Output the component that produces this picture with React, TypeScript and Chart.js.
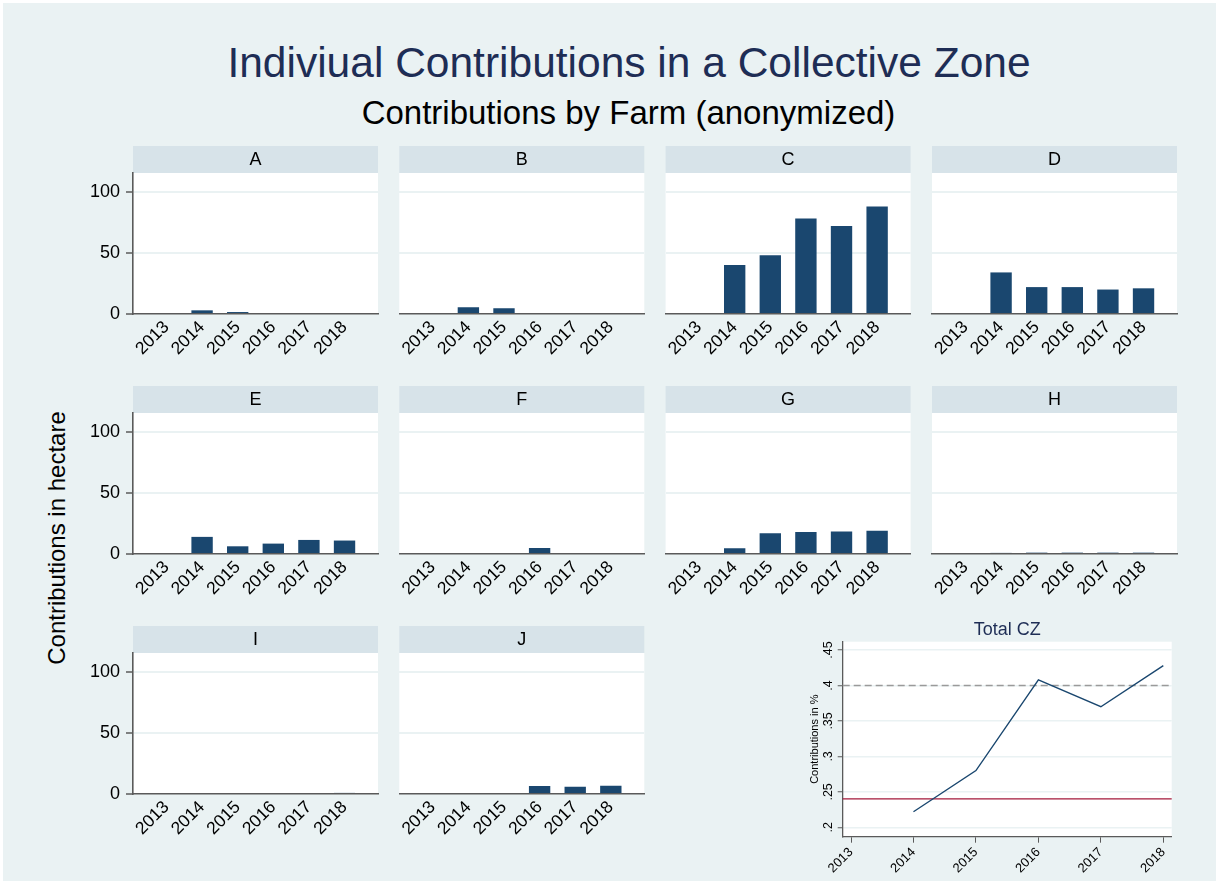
import React, { useEffect, useRef } from 'react';
import { Chart, registerables } from 'chart.js';

Chart.register(...registerables);

// ---------------- data ----------------
const YEARS = [2013, 2014, 2015, 2016, 2017, 2018];
const FARM_LABELS = ['A', 'B', 'C', 'D', 'E', 'F', 'G', 'H', 'I', 'J'];
const farmA = [0, 3, 1.6, 0, 0, 0];
const farmB = [0, 5.6, 4.8, 0, 0, 0];
const farmC = [0, 40, 48, 78, 72, 88];
const farmD = [0, 34, 22, 22, 20, 21];
const farmE = [0, 14, 6.3, 8.5, 11.5, 11];
const farmF = [0, 0, 0, 5, 0, 0];
const farmG = [0, 4.7, 17, 18, 18.3, 19];
const farmH = [0, 0.9, 1.1, 1.1, 1.1, 1.1];
const farmI = [0, 0, 0, 0, 0, 0.9];
const farmJ = [0, 0, 0, 6.5, 6, 6.8];
const FARM_VALUES = [farmA, farmB, farmC, farmD, farmE, farmF, farmG, farmH, farmI, farmJ];
const HECTARE_TICKS = [0, 50, 100];
const HECTARE_MAX = 115.3;

const totalCZ = [null, 0.222, 0.28, 0.408, 0.37, 0.428];
const TOTAL_TICKS = [0.2, 0.25, 0.3, 0.35, 0.4, 0.45];
const TOTAL_TICK_LABELS = ['.2', '.25', '.3', '.35', '.4', '.45'];
const TOTAL_MIN = 0.1868;
const TOTAL_MAX = 0.4617;
const REF_LOW = 0.24;
const REF_HIGH = 0.4;

const TITLE = 'Indiviual Contributions in a Collective Zone';
const SUBTITLE = 'Contributions by Farm (anonymized)';
const Y_TITLE = 'Contributions in hectare';
const TOTAL_TITLE = 'Total CZ';
const TOTAL_Y_TITLE = 'Contributions in %';

// ---------------- style / layout ----------------
const FONT = '"Liberation Sans", Arial, Helvetica, sans-serif';
const NAVY = '#1A476F';
const TITLE_COLOR = '#1E2D55';
const BG = '#EAF2F3';
const STRIP = '#D7E3E9';
const AXIS = '#5A5A5A';
const GRID = '#EAF2F3';
const REF_LOW_COLOR = '#A3193A';
const REF_HIGH_COLOR = '#9A9A9A';

const COL_LEFT = [133, 399.3, 665.6, 932];
const AXIS_Y = [314, 554, 794];
const PLOT_W = 245;
const PLOT_H = 141;
const STRIP_H = 27;
const LEFT_SPACE = 75;
const BOTTOM_SPACE = 58;
const RIGHT_SPACE = 15;
const X_MIN = 2012.06;
const X_MAX = 2018.94;

const TOTAL_AREA = { left: 842.7, right: 1171.7, top: 641.7, bottom: 836.7 };
const TOTAL_CANVAS = { left: 790, top: 610, right: 1216, bottom: 880 };
const TOTAL_X_MIN = 2012.867;
const TOTAL_X_MAX = 2018.134;

type Geo = { left: number; top: number; width: number; height: number };

function panelGeo(i: number) {
  const r = Math.floor(i / 4);
  const c = i % 4;
  const plotLeft = COL_LEFT[c];
  const axisY = AXIS_Y[r];
  const stripTop = axisY - PLOT_H - STRIP_H;
  const cl = Math.floor(plotLeft - LEFT_SPACE);
  const ct = Math.floor(stripTop);
  const width = Math.ceil(plotLeft + PLOT_W + RIGHT_SPACE) - cl;
  const height = Math.ceil(axisY + BOTTOM_SPACE) - ct;
  return {
    canvas: { left: cl, top: ct, width, height } as Geo,
    yWidth: plotLeft - cl,
    padTop: stripTop - ct,
    padRight: width - (plotLeft - cl) - PLOT_W,
    xHeight: height - (axisY - ct),
    showY: c === 0,
  };
}

const panelPlugin = {
  id: 'panelBg',
  beforeDraw(chart: any, _args: any, opts: any) {
    const { ctx, chartArea: a } = chart;
    ctx.save();
    ctx.fillStyle = '#ffffff';
    ctx.fillRect(a.left, a.top, a.right - a.left, a.bottom - a.top);
    const t = chart.titleBlock;
    if (opts && opts.strip && t) {
      ctx.fillStyle = STRIP;
      ctx.fillRect(t.left, t.top, t.width, t.height);
    }
    ctx.restore();
  },
};

const refLinesPlugin = {
  id: 'refLines',
  beforeDatasetsDraw(chart: any) {
    const { ctx, chartArea: a, scales } = chart;
    const y = scales.y;
    const draw = (v: number, color: string, dash: number[], w: number) => {
      const py = y.getPixelForValue(v);
      ctx.save();
      ctx.strokeStyle = color;
      ctx.lineWidth = w;
      ctx.setLineDash(dash);
      ctx.beginPath();
      ctx.moveTo(a.left, py);
      ctx.lineTo(a.right, py);
      ctx.stroke();
      ctx.restore();
    };
    draw(REF_HIGH, REF_HIGH_COLOR, [7, 4], 1.5);
    draw(REF_LOW, REF_LOW_COLOR, [], 1.3);
  },
};

function barConfig(i: number): any {
  const g = panelGeo(i);
  const values = FARM_VALUES[i];
  const stripFont = 18;
  const stripPadTop = 3;
  return {
    type: 'bar',
    data: {
      datasets: [
        {
          data: YEARS.map((yr, k) => ({ x: yr, y: values[k] })),
          backgroundColor: NAVY,
          borderWidth: 0,
          barPercentage: 0.6,
          categoryPercentage: 1,
        },
      ],
    },
    options: {
      animation: false,
      responsive: false,
      devicePixelRatio: 1,
      events: [],
      layout: { padding: { left: 0, right: g.padRight, top: g.padTop, bottom: 0 } },
      plugins: {
        legend: { display: false },
        tooltip: { enabled: false },
        panelBg: { strip: true },
        title: {
          display: true,
          text: FARM_LABELS[i],
          fullSize: false,
          color: '#000',
          font: { family: FONT, size: stripFont, weight: 'normal', lineHeight: 1.2 },
          padding: { top: stripPadTop, bottom: STRIP_H - stripPadTop - stripFont * 1.2 },
        },
      },
      scales: {
        x: {
          type: 'linear',
          offset: false,
          min: X_MIN,
          max: X_MAX,
          afterBuildTicks: (s: any) => {
            s.ticks = YEARS.map((v) => ({ value: v }));
          },
          afterFit: (s: any) => {
            s.height = g.xHeight;
          },
          ticks: {
            autoSkip: false,
            callback: (v: any) => String(v),
            minRotation: 45,
            maxRotation: 45,
            font: { family: FONT, size: 17.5 },
            color: '#000',
            padding: 3,
          },
          grid: { display: false, drawTicks: false },
          border: { display: true, color: AXIS, width: 1.6 },
        },
        y: {
          min: 0,
          max: HECTARE_MAX,
          afterBuildTicks: (s: any) => {
            s.ticks = HECTARE_TICKS.map((v) => ({ value: v }));
          },
          afterFit: (s: any) => {
            s.width = g.yWidth;
          },
          ticks: {
            display: g.showY,
            font: { family: FONT, size: 18 },
            color: '#000',
            padding: 6,
          },
          grid: {
            color: (ctx: any) => (ctx.tick && ctx.tick.value === 0 ? 'rgba(0,0,0,0)' : GRID),
            lineWidth: 2,
            drawTicks: g.showY,
            tickLength: 7,
            tickColor: AXIS,
            tickWidth: 1.5,
          },
          border: { display: g.showY, color: AXIS, width: 1.6 },
        },
      },
    },
    plugins: [panelPlugin],
  };
}

function totalConfig(): any {
  const yW = TOTAL_AREA.left - TOTAL_CANVAS.left;
  const xH = TOTAL_CANVAS.bottom - TOTAL_AREA.bottom;
  const titleLH = 18 * 1.2;
  const titleTop = 9;
  return {
    type: 'line',
    data: {
      datasets: [
        {
          data: YEARS.map((yr, k) => ({ x: yr, y: totalCZ[k] })),
          borderColor: NAVY,
          borderWidth: 1.4,
          pointRadius: 0,
          fill: false,
          tension: 0,
          spanGaps: false,
        },
      ],
    },
    options: {
      animation: false,
      responsive: false,
      devicePixelRatio: 1,
      events: [],
      layout: { padding: { left: 0, right: TOTAL_CANVAS.right - TOTAL_AREA.right, top: 0, bottom: 0 } },
      plugins: {
        legend: { display: false },
        tooltip: { enabled: false },
        panelBg: { strip: false },
        title: {
          display: true,
          text: TOTAL_TITLE,
          fullSize: false,
          color: TITLE_COLOR,
          font: { family: FONT, size: 18, weight: 'normal', lineHeight: 1.2 },
          padding: {
            top: titleTop,
            bottom: TOTAL_AREA.top - TOTAL_CANVAS.top - titleTop - titleLH,
          },
        },
      },
      scales: {
        x: {
          type: 'linear',
          min: TOTAL_X_MIN,
          max: TOTAL_X_MAX,
          afterBuildTicks: (s: any) => {
            s.ticks = YEARS.map((v) => ({ value: v }));
          },
          afterFit: (s: any) => {
            s.height = xH;
          },
          ticks: {
            autoSkip: false,
            callback: (v: any) => String(v),
            minRotation: 45,
            maxRotation: 45,
            font: { family: FONT, size: 13 },
            color: '#000',
            padding: 2,
          },
          grid: { drawOnChartArea: false, drawTicks: true, tickLength: 6, tickColor: AXIS, tickWidth: 1 },
          border: { display: true, color: AXIS, width: 1.3 },
        },
        y: {
          min: TOTAL_MIN,
          max: TOTAL_MAX,
          afterBuildTicks: (s: any) => {
            s.ticks = TOTAL_TICKS.map((v) => ({ value: v }));
          },
          afterFit: (s: any) => {
            s.width = yW;
          },
          ticks: {
            callback: (_v: any, idx: number) => TOTAL_TICK_LABELS[idx],
            minRotation: 90,
            maxRotation: 90,
            crossAlign: 'center',
            font: { family: FONT, size: 12.5 },
            color: '#000',
            padding: 0,
          },
          grid: { color: GRID, lineWidth: 1.5, tickLength: 5, tickColor: AXIS, tickWidth: 1 },
          border: { display: true, color: AXIS, width: 1.3 },
          title: {
            display: true,
            text: TOTAL_Y_TITLE,
            color: '#000',
            font: { family: FONT, size: 11 },
            padding: { top: 18.4, bottom: 0 },
          },
        },
      },
    },
    plugins: [panelPlugin, refLinesPlugin],
  };
}

export default function App() {
  const barRefs = useRef<(HTMLCanvasElement | null)[]>([]);
  const totalRef = useRef<HTMLCanvasElement | null>(null);

  useEffect(() => {
    const charts: Chart[] = [];
    FARM_LABELS.forEach((_, i) => {
      const c = barRefs.current[i];
      if (c) charts.push(new Chart(c, barConfig(i)));
    });
    if (totalRef.current) charts.push(new Chart(totalRef.current, totalConfig()));
    return () => charts.forEach((ch) => ch.destroy());
  }, []);

  const tc = TOTAL_CANVAS;

  return (
    <div
      style={{
        position: 'absolute',
        left: 0,
        top: 0,
        width: 1216,
        height: 881,
        background: '#ffffff',
        overflow: 'hidden',
        fontFamily: FONT,
      }}
    >
      <div style={{ position: 'absolute', left: 3, top: 3, right: 0, bottom: 0, background: BG }} />
      <div
        style={{
          position: 'absolute',
          left: 29,
          top: 42,
          width: 1200,
          textAlign: 'center',
          fontSize: 42.5,
          lineHeight: '42.5px',
          color: TITLE_COLOR,
          whiteSpace: 'nowrap',
        }}
      >
        {TITLE}
      </div>
      <div
        style={{
          position: 'absolute',
          left: 28.5,
          top: 95.5,
          width: 1200,
          textAlign: 'center',
          fontSize: 33,
          lineHeight: '33px',
          color: '#000',
          whiteSpace: 'nowrap',
        }}
      >
        {SUBTITLE}
      </div>
      <div
        style={{
          position: 'absolute',
          left: 57,
          top: 538,
          transform: 'translate(-50%, -50%) rotate(-90deg)',
          fontSize: 24,
          lineHeight: '24px',
          color: '#000',
          whiteSpace: 'nowrap',
        }}
      >
        {Y_TITLE}
      </div>
      {FARM_LABELS.map((lab, i) => {
        const g = panelGeo(i).canvas;
        return (
          <canvas
            key={lab}
            ref={(el) => {
              barRefs.current[i] = el;
            }}
            width={g.width}
            height={g.height}
            style={{ position: 'absolute', left: g.left, top: g.top, width: g.width, height: g.height }}
          />
        );
      })}
      <canvas
        ref={totalRef}
        width={tc.right - tc.left}
        height={tc.bottom - tc.top}
        style={{
          position: 'absolute',
          left: tc.left,
          top: tc.top,
          width: tc.right - tc.left,
          height: tc.bottom - tc.top,
        }}
      />
    </div>
  );
}
